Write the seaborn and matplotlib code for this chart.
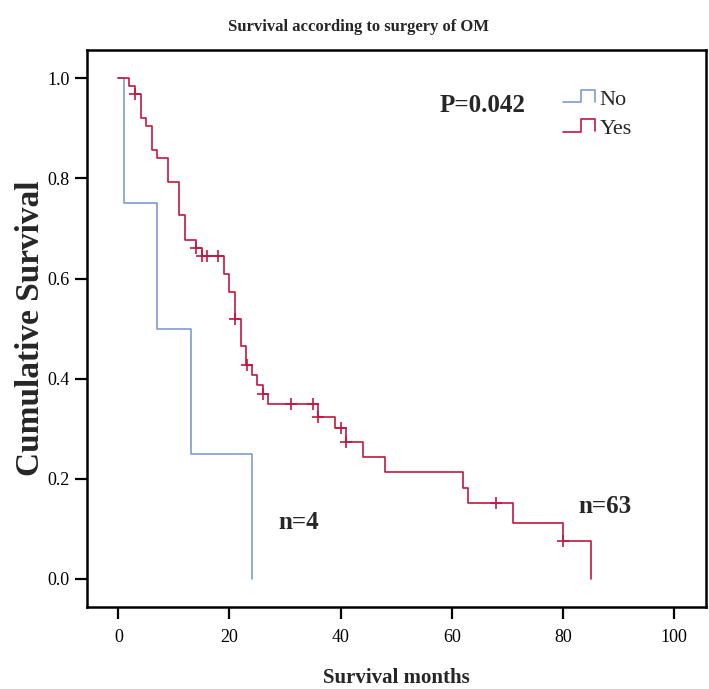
# Kaplan-Meier style survival plot: surgery of OM (No / Yes)

import numpy as np
import matplotlib
matplotlib.use("Agg")
import matplotlib.pyplot as plt
import seaborn as sns
from matplotlib.lines import Line2D
from matplotlib.legend_handler import HandlerBase

# Curve data: time in months, survival after each step
no_months = [0, 1, 7, 13, 24]
no_surv = [1.0, 0.75, 0.50, 0.25, 0.0]

yes_months = [0, 2, 3, 4, 5, 6, 7, 9, 11, 12, 14, 15, 19, 20, 21, 22, 23, 24,
              25, 26, 27, 36, 39, 41, 44, 48, 62, 63, 71, 80, 85]
yes_surv = [1.0, 0.984, 0.968, 0.921, 0.905, 0.856, 0.840, 0.792, 0.727, 0.677,
            0.661, 0.645, 0.610, 0.573, 0.520, 0.465, 0.427, 0.408, 0.388, 0.370,
            0.349, 0.324, 0.301, 0.273, 0.243, 0.213, 0.182, 0.151, 0.112, 0.075, 0.0]

# Censored observations in the "Yes" group
yes_censored = [3, 14, 15, 16, 18, 21, 23.2, 26, 31, 35, 36, 40, 41, 68, 80]

group_labels = ["No", "Yes"]
x_ticks = [0, 20, 40, 60, 80, 100]
y_ticks = [0.0, 0.2, 0.4, 0.6, 0.8, 1.0]

BLUE = "#7d9bd6"
RED = "#c4163f"


class StepHandler(HandlerBase):
    """Draw legend handles as a small step, like SPSS does"""

    def create_artists(self, legend, orig_handle, xdescent, ydescent,
                       width, height, fontsize, trans):
        x0, y0 = -xdescent, -ydescent
        xs = [x0, x0 + 0.55 * width, x0 + 0.55 * width, x0 + width, x0 + width]
        ys = [y0 + 0.15 * height, y0 + 0.15 * height, y0 + 0.95 * height,
              y0 + 0.95 * height, y0 + 0.2 * height]
        line = Line2D(xs, ys, color=orig_handle.get_color(),
                      linewidth=orig_handle.get_linewidth())
        line.set_transform(trans)
        return [line]


def main():
    sns.set_theme(style="ticks")
    plt.rcParams["font.family"] = ["Liberation Serif", "DejaVu Serif"]

    fig = plt.figure(figsize=(7.09, 6.89), dpi=100)
    ax = fig.add_axes([0.123, 0.119, 0.873, 0.808])

    # Survival curves
    sns.lineplot(x=no_months, y=no_surv, drawstyle="steps-post", color=BLUE,
                 linewidth=1.2, estimator=None, sort=False, ax=ax)
    sns.lineplot(x=yes_months, y=yes_surv, drawstyle="steps-post", color=RED,
                 linewidth=1.2, estimator=None, sort=False, ax=ax)

    # Censor marks sit on the curve
    idx = np.searchsorted(yes_months, yes_censored, side="right") - 1
    censor_surv = np.array(yes_surv)[idx]
    sns.scatterplot(x=yes_censored, y=censor_surv, marker="+", s=70,
                    color=RED, linewidth=1.2, ax=ax, zorder=3)

    # Axes
    ax.set_xlim(-5.6, 105.8)
    ax.set_ylim(-0.056, 1.056)
    ax.set_xticks(x_ticks)
    ax.set_yticks(y_ticks)
    ax.set_yticklabels([f"{v:.1f}" for v in y_ticks])
    ax.tick_params(axis="both", length=8.5, width=1.6, labelsize=13,
                   colors="black", direction="out")
    ax.tick_params(axis="x", pad=7)
    ax.tick_params(axis="y", pad=4)
    for side in ["left", "right", "top", "bottom"]:
        ax.spines[side].set_visible(True)
        ax.spines[side].set_linewidth(1.8)
        ax.spines[side].set_color("black")

    ax.set_xlabel("Survival months", fontsize=15, fontweight="bold")
    ax.set_ylabel("Cumulative Survival", fontsize=24, fontweight="bold")
    ax.xaxis.set_label_coords(0.5, -0.11)
    ax.yaxis.set_label_coords(-0.066, 0.5)

    fig.text(0.505, 0.961, "Survival according to surgery of OM",
             fontsize=12, fontweight="bold", ha="center", va="center")

    # Annotations
    ax.text(65.6, 0.946, "P=0.042", fontsize=18, fontweight="bold",
            ha="center", va="center")
    ax.text(32.4, 0.112, "n=4", fontsize=18, fontweight="bold",
            ha="center", va="center")
    ax.text(87.6, 0.144, "n=63", fontsize=18, fontweight="bold",
            ha="center", va="center")

    # Legend with step handles
    handles = [Line2D([], [], color=BLUE, linewidth=1.2),
               Line2D([], [], color=RED, linewidth=1.2)]
    ax.legend(handles, group_labels, loc="upper left",
              bbox_to_anchor=(0.769, 0.93), frameon=False, fontsize=16,
              handlelength=1.45, handletextpad=0.2, labelspacing=0.4,
              borderpad=0, borderaxespad=0,
              handler_map={Line2D: StepHandler()})

    fig.savefig("out.png", dpi=100)


if __name__ == "__main__":
    main()
